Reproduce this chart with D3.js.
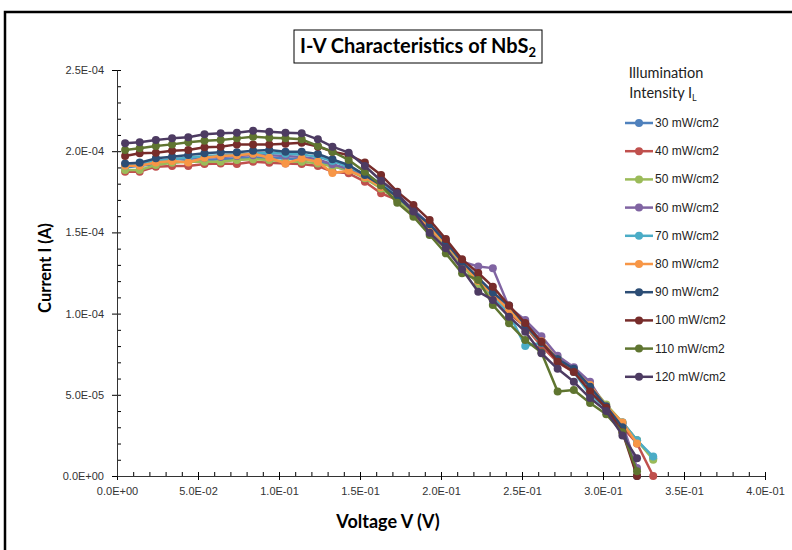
<!DOCTYPE html>
<html>
<head>
<meta charset="utf-8">
<script src="https://cdn.jsdelivr.net/npm/d3@7"></script>
<style>
  body { margin: 0; background: #fff; }
  svg { display: block; }
</style>
</head>
<body>
<div id="chart"></div>
<script>

// voltage (V) of each measured point
const voltage = [0.005, 0.014, 0.024, 0.034, 0.044, 0.054, 0.064, 0.074, 0.084, 0.094,
  0.104, 0.114, 0.124, 0.133, 0.143, 0.153, 0.163, 0.173, 0.183, 0.193,
  0.203, 0.213, 0.223, 0.232, 0.242, 0.252, 0.262, 0.272, 0.282, 0.292,
  0.302, 0.312, 0.321, 0.331]

// currents in units of 1E-04 A
const i30 = [1.90,1.91,1.92,1.93,1.94,1.945,1.95,1.955,1.96,1.96,1.955,1.95,1.94,1.91,1.88,1.84,1.79,1.72,1.63,1.54,1.43,1.31,1.20,1.12,1.03,0.95,0.83,0.72,0.66,0.55,0.43,0.33,0.22,0.11]
const i40 = [1.874,1.874,1.905,1.909,1.909,1.921,1.925,1.921,1.935,1.929,1.925,1.921,1.909,1.874,1.864,1.812,1.741,1.70,1.61,1.52,1.42,1.30,1.18,1.10,1.00,0.92,0.80,0.70,0.64,0.55,0.42,0.30,0.20,0.0]
const i50 = [1.884,1.884,1.915,1.929,1.935,1.935,1.935,1.946,1.950,1.946,1.935,1.935,1.925,1.905,1.884,1.833,1.77,1.70,1.62,1.53,1.42,1.30,1.18,1.10,1.02,0.92,0.82,0.72,0.66,0.56,0.44,0.33,0.22,0.10]
const i60 = [1.92,1.92,1.94,1.95,1.955,1.96,1.965,1.97,1.975,1.975,1.97,1.965,1.95,1.92,1.89,1.85,1.80,1.73,1.64,1.55,1.45,1.32,1.29,1.28,1.04,0.96,0.86,0.74,0.67,0.58,0.42,0.32,0.05]
const i70 = [1.91,1.93,1.94,1.95,1.96,1.97,1.975,1.98,1.985,1.99,1.985,1.98,1.965,1.94,1.90,1.86,1.80,1.72,1.63,1.54,1.43,1.31,1.21,1.11,1.00,0.80,0.82,0.72,0.64,0.50,0.42,0.33,0.22,0.12]
const i80 = [1.91,1.91,1.93,1.94,1.93,1.96,1.97,1.975,1.985,1.96,1.925,1.955,1.935,1.866,1.88,1.84,1.78,1.72,1.63,1.53,1.43,1.31,1.20,1.12,1.02,0.92,0.83,0.72,0.65,0.56,0.43,0.33,0.20]
const i90 = [1.925,1.929,1.956,1.966,1.977,1.987,1.993,1.993,2.003,2.007,1.997,1.997,1.983,1.950,1.915,1.853,1.79,1.72,1.63,1.55,1.44,1.32,1.22,1.13,1.05,0.93,0.82,0.72,0.66,0.55,0.43,0.30,0.0]
const i100 = [1.970,1.987,1.991,2.003,2.007,2.024,2.028,2.042,2.042,2.042,2.046,2.052,2.028,1.997,1.977,1.93,1.853,1.751,1.669,1.576,1.459,1.334,1.25,1.166,1.05,0.942,0.827,0.704,0.64,0.52,0.42,0.27,0.0]
const i110 = [2.007,2.018,2.032,2.042,2.055,2.065,2.069,2.079,2.089,2.083,2.079,2.073,2.032,1.997,1.946,1.874,1.79,1.683,1.597,1.484,1.371,1.248,1.207,1.053,0.940,0.837,0.76,0.52,0.53,0.45,0.38,0.27,0.03]
const i120 = [2.049,2.055,2.069,2.079,2.086,2.104,2.110,2.114,2.126,2.120,2.114,2.110,2.073,2.028,1.991,1.909,1.818,1.741,1.628,1.498,1.402,1.273,1.135,1.084,0.981,0.889,0.756,0.66,0.58,0.48,0.40,0.25,0.11]

const seriesNames = ["30 mW/cm2","40 mW/cm2","50 mW/cm2","60 mW/cm2","70 mW/cm2",
  "80 mW/cm2","90 mW/cm2","100 mW/cm2","110 mW/cm2","120 mW/cm2"]
const seriesValues = [i30, i40, i50, i60, i70, i80, i90, i100, i110, i120]
const colors = ["#4F81BD","#C0504D","#9BBB59","#8064A2","#4BACC6",
  "#F79646","#2C4D75","#772C2A","#5F7530","#4D3B62"]

const xTicks = [0, 0.05, 0.1, 0.15, 0.2, 0.25, 0.3, 0.35, 0.4]
const xTickLabels = ["0.0E+00","5.0E-02","1.0E-01","1.5E-01","2.0E-01","2.5E-01","3.0E-01","3.5E-01","4.0E-01"]
const yTicks = [0, 5e-5, 1e-4, 1.5e-4, 2e-4, 2.5e-4]
const yTickLabels = ["0.0E+00","5.0E-05","1.0E-04","1.5E-04","2.0E-04","2.5E-04"]
const UNIT = 1e-4

let dim = {width: 792, height: 550}
let plot = {left: 117, right: 765, top: 70, bottom: 476}

let svg = d3.select('#chart').append('svg')
    .attr('width', dim.width)
    .attr('height', dim.height)

// outer chart frame
svg.append('rect')
    .attr('x', 5).attr('y', 12)
    .attr('width', 820).attr('height', 600)
    .attr('fill', '#fff')
    .attr('stroke', '#000')
    .attr('stroke-width', 2.5)

let scaleX = d3.scaleLinear()
    .domain([0, 0.4])
    .range([plot.left, plot.right])

let scaleY = d3.scaleLinear()
    .domain([0, 2.5e-4])
    .range([plot.bottom, plot.top])

const tickFont = '"Liberation Sans", Arial, sans-serif'

// minor ticks (inside)
svg.append('g')
    .attr('transform', `translate(0,${plot.bottom})`)
    .call(d3.axisBottom(scaleX).tickValues(d3.range(0, 41).map(i => i / 100)).tickSize(-4).tickFormat(''))
    .call(g => g.select('.domain').remove())
svg.append('g')
    .attr('transform', `translate(${plot.left},0)`)
    .call(d3.axisLeft(scaleY).tickValues(d3.range(0, 26).map(i => i * 1e-5)).tickSize(-4).tickFormat(''))
    .call(g => g.select('.domain').remove())

// major axes
let axisX = d3.axisBottom(scaleX)
    .tickValues(xTicks)
    .tickFormat((d, i) => xTickLabels[i])
    .tickSizeInner(4).tickSizeOuter(0).tickPadding(7)
let axisY = d3.axisLeft(scaleY)
    .tickValues(yTicks)
    .tickFormat((d, i) => yTickLabels[i])
    .tickSizeInner(5).tickSizeOuter(0).tickPadding(8)

svg.append('g')
    .attr('transform', `translate(0,${plot.bottom})`)
    .call(axisX)
    .call(g => g.selectAll('text').attr('font-family', tickFont).attr('font-size', 11).attr('fill', '#333'))
    .call(g => g.select('.domain').attr('stroke', '#333'))
svg.append('g')
    .attr('transform', `translate(${plot.left},0)`)
    .call(axisY)
    .call(g => g.selectAll('text').attr('font-family', tickFont).attr('font-size', 11).attr('fill', '#333'))
    .call(g => g.select('.domain').attr('stroke', '#333'))

// series
let line = d3.line()
    .x((d, i) => scaleX(voltage[i]))
    .y(d => scaleY(d * UNIT))

seriesValues.forEach((vals, s) => {
    let g = svg.append('g')
    g.append('path')
        .attr('d', line(vals))
        .attr('fill', 'none')
        .attr('stroke', colors[s])
        .attr('stroke-width', 2.5)
        .attr('stroke-linejoin', 'round')
    g.selectAll('circle')
        .data(vals)
        .enter()
        .append('circle')
        .attr('cx', (d, i) => scaleX(voltage[i]))
        .attr('cy', d => scaleY(d * UNIT))
        .attr('r', 4)
        .attr('fill', colors[s])
})

// title box
const titleFont = 'Lato, "Open Sans", sans-serif'
svg.append('rect')
    .attr('x', 294).attr('y', 30)
    .attr('width', 248).attr('height', 33)
    .attr('fill', '#fff').attr('stroke', '#000').attr('stroke-width', 1)
let title = svg.append('text')
    .attr('x', 418).attr('y', 53)
    .attr('text-anchor', 'middle')
    .attr('font-family', titleFont)
    .attr('font-weight', 'bold')
    .attr('font-size', 20)
    .text('I-V Characteristics of NbS')
title.append('tspan').attr('font-size', 13).attr('dy', 4).text('2')

// axis titles
svg.append('text')
    .attr('x', 388).attr('y', 528)
    .attr('text-anchor', 'middle')
    .attr('font-family', titleFont)
    .attr('font-weight', 'bold')
    .attr('font-size', 18)
    .text('Voltage V (V)')
svg.append('text')
    .attr('transform', 'translate(51,268) rotate(-90)')
    .attr('text-anchor', 'middle')
    .attr('font-family', titleFont)
    .attr('font-weight', 'bold')
    .attr('font-size', 16.5)
    .text('Current I (A)')

// legend
let legend = svg.append('g')
legend.append('text')
    .attr('x', 666).attr('y', 78)
    .attr('text-anchor', 'middle')
    .attr('font-family', titleFont).attr('font-size', 14.5).attr('fill', '#222')
    .text('Illumination')
let lt = legend.append('text')
    .attr('x', 663).attr('y', 98)
    .attr('text-anchor', 'middle')
    .attr('font-family', titleFont).attr('font-size', 14.5).attr('fill', '#222')
    .text('Intensity I')
lt.append('tspan').attr('font-size', 9).attr('dy', 3).text('L')

seriesNames.forEach((name, s) => {
    let y = 123 + s * 28.2
    legend.append('line')
        .attr('x1', 625).attr('x2', 653)
        .attr('y1', y).attr('y2', y)
        .attr('stroke', colors[s]).attr('stroke-width', 2.5)
    legend.append('circle')
        .attr('cx', 639).attr('cy', y).attr('r', 4)
        .attr('fill', colors[s])
    legend.append('text')
        .attr('x', 655).attr('y', y + 4)
        .attr('font-family', tickFont).attr('font-size', 12).attr('fill', '#222')
        .text(name)
})

</script>
</body>
</html>
